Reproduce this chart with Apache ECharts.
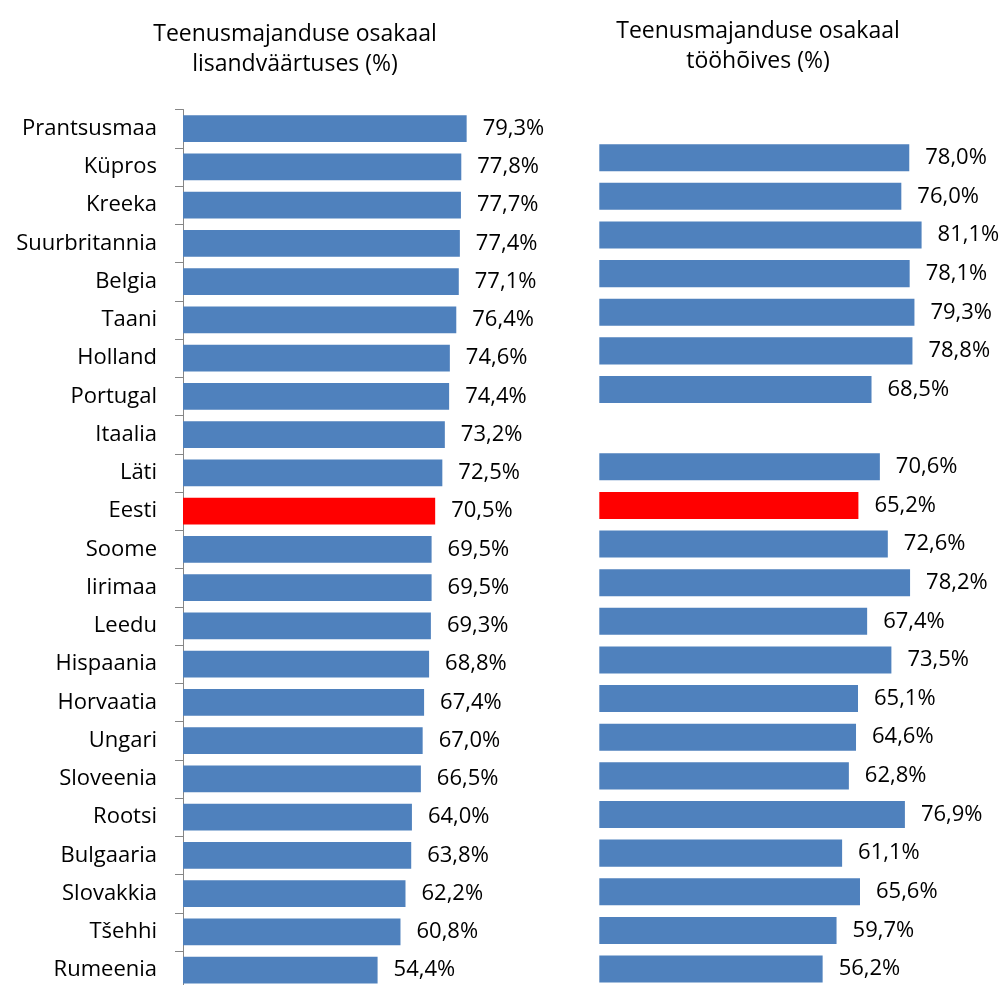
<!DOCTYPE html>
<html>
<head>
<meta charset="utf-8">
<script src="https://cdn.jsdelivr.net/npm/echarts@6/dist/echarts.min.js"></script>
<style>
html,body{margin:0;padding:0;background:#fff;}
#chart{width:1004px;height:985px;}
</style>
</head>
<body>
<div id="chart"></div>
<script>
const categories = ["Prantsusmaa","Küpros","Kreeka","Suurbritannia","Belgia","Taani","Holland","Portugal","Itaalia","Läti","Eesti","Soome","Iirimaa","Leedu","Hispaania","Horvaatia","Ungari","Sloveenia","Rootsi","Bulgaaria","Slovakkia","Tšehhi","Rumeenia"];
const valueAdded = [79.3,77.8,77.7,77.4,77.1,76.4,74.6,74.4,73.2,72.5,70.5,69.5,69.5,69.3,68.8,67.4,67.0,66.5,64.0,63.8,62.2,60.8,54.4];
const employment = [null,78.0,76.0,81.1,78.1,79.3,78.8,68.5,null,70.6,65.2,72.6,78.2,67.4,73.5,65.1,64.6,62.8,76.9,61.1,65.6,59.7,56.2];
const highlight = "Eesti";
const titleLeft = "Teenusmajanduse osakaal\nlisandväärtuses (%)";
const titleRight = "Teenusmajanduse osakaal\ntööhõives (%)";

const FONT = "Open Sans";
const FS = 22;
const BLUE = "#4F81BD";
const RED = "#FF0000";

function toData(arr){
  return arr.map((v,i)=>({
    value: v,
    itemStyle: {color: categories[i]===highlight ? RED : BLUE}
  }));
}
function fmt(p){
  if(p.value==null) return '';
  return p.value.toFixed(1).replace('.',',') + '%';
}
const labelCfg = {show:true, position:'right', distance:16, formatter:fmt, color:'#000', fontFamily:FONT, fontSize:FS, padding:[3,0,0,0]};

const chart = echarts.init(document.getElementById('chart'), null, {renderer:'canvas'});
chart.setOption({
  animation:false,
  backgroundColor:'#fff',
  title:[
    {text:titleLeft, left:290, top:14, textAlign:'center',
     textStyle:{fontFamily:FONT, fontSize:23, fontWeight:'normal', color:'#000', lineHeight:30}},
    {text:titleRight, left:753, top:11, textAlign:'center',
     textStyle:{fontFamily:FONT, fontSize:23, fontWeight:'normal', color:'#000', lineHeight:30}}
  ],
  grid:[
    {left:183, top:109.5, width:357.7, height:879.8, containLabel:false, outerBoundsMode:'none'},
    {left:599.3, top:99.75, width:397.4, height:888.6, containLabel:false, outerBoundsMode:'none'}
  ],
  xAxis:[
    {gridIndex:0, type:'value', min:0, max:100, show:false},
    {gridIndex:1, type:'value', min:0, max:100, show:false}
  ],
  yAxis:[
    {gridIndex:0, type:'category', inverse:true, data:categories,
     axisLine:{show:true, lineStyle:{color:'#868686', width:1}},
     axisTick:{show:true, length:8, lineStyle:{color:'#868686'}},
     axisLabel:{color:'#000', fontFamily:FONT, fontSize:FS, margin:26, padding:[3,0,0,0]},
     splitLine:{show:false}},
    {gridIndex:1, type:'category', inverse:true, data:categories,
     axisLine:{show:false}, axisTick:{show:false}, axisLabel:{show:false}, splitLine:{show:false}}
  ],
  series:[
    {type:'bar', xAxisIndex:0, yAxisIndex:0, data:toData(valueAdded), barWidth:'70%', label:labelCfg},
    {type:'bar', xAxisIndex:1, yAxisIndex:1, data:toData(employment), barWidth:'70%', label:labelCfg}
  ]
});
</script>
</body>
</html>
